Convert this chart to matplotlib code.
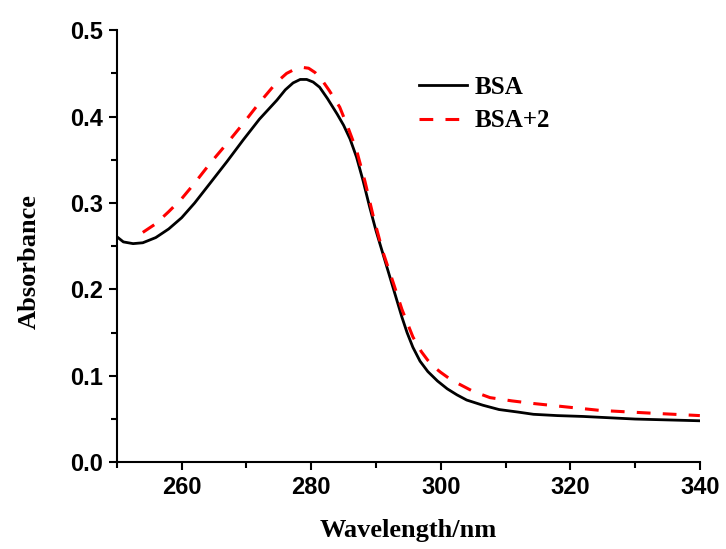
import matplotlib
matplotlib.use('Agg')
import matplotlib.pyplot as plt
from matplotlib.ticker import MultipleLocator

# Espectros UV-Vis
wl_bsa = [250, 251, 252.5, 254, 256, 258, 260, 262, 264.4, 267, 269.5, 272, 274.7,
          276, 277.2, 278.3, 279.3, 280.3, 281.3, 282.5, 284, 285, 286, 287, 288, 289,
          290, 291, 292, 293, 294, 294.8, 295.7, 296.8, 298, 299.5, 301, 302.5, 304,
          306.5, 309, 312, 314.3, 318, 322, 326, 330, 335, 340]
abs_bsa = [0.261, 0.255, 0.253, 0.254, 0.260, 0.270, 0.283, 0.300, 0.323, 0.348, 0.373,
           0.397, 0.419, 0.431, 0.439, 0.443, 0.443, 0.440, 0.434, 0.421, 0.403, 0.390,
           0.374, 0.353, 0.326, 0.296, 0.268, 0.243, 0.218, 0.193, 0.168, 0.150, 0.133,
           0.117, 0.105, 0.094, 0.085, 0.078, 0.072, 0.066, 0.061, 0.058, 0.0555, 0.054,
           0.053, 0.0515, 0.050, 0.049, 0.048]

wl_bsa2 = [254, 256, 258, 260, 262, 264.4, 267, 269.5, 272, 274.7, 276.2, 277.5, 278.6,
           279.6, 280.6, 281.6, 282.8, 284.4, 285.8, 287, 288.3, 289.6, 291, 292.7, 294,
           295.7, 297, 298, 299, 300, 301.3, 302.7, 305, 307.6, 311, 314.3, 319.4,
           324.6, 332, 340]
abs_bsa2 = [0.266, 0.276, 0.290, 0.305, 0.323, 0.346, 0.369, 0.392, 0.416, 0.440, 0.450,
            0.455, 0.457, 0.456, 0.451, 0.443, 0.430, 0.411, 0.385, 0.361, 0.325, 0.284,
            0.245, 0.207, 0.177, 0.145, 0.128, 0.118, 0.110, 0.104, 0.097, 0.091, 0.082,
            0.0748, 0.071, 0.068, 0.064, 0.060, 0.057, 0.054]

xticks = [260, 280, 300, 320, 340]
yticks = [0.0, 0.1, 0.2, 0.3, 0.4, 0.5]

fig = plt.figure(figsize=(7.26, 5.49), dpi=100)
ax = fig.add_axes([0.161, 0.158, 0.803, 0.787])

ax.plot(wl_bsa, abs_bsa, color='black', lw=2.0, label='BSA')
ax.plot(wl_bsa2, abs_bsa2, color='#ff0000', lw=2.2, dashes=(4.5, 4), label='BSA+2')

ax.set_xlim(250, 340)
ax.set_ylim(0, 0.5)
ax.set_xticks(xticks)
ax.set_yticks(yticks)
ax.set_yticklabels([f'{v:.1f}' for v in yticks])
ax.xaxis.set_minor_locator(MultipleLocator(10))
ax.yaxis.set_minor_locator(MultipleLocator(0.05))

for s in ['top', 'right']:
    ax.spines[s].set_visible(False)
for s in ['left', 'bottom']:
    ax.spines[s].set_linewidth(1.5)

ax.tick_params(which='major', direction='out', length=6, width=1.5, pad=4)
ax.tick_params(which='minor', direction='out', length=4, width=1.5)
for lab in ax.get_xticklabels() + ax.get_yticklabels():
    lab.set_fontfamily('Liberation Sans')
    lab.set_fontweight('bold')
    lab.set_fontsize(17)

ax.set_xlabel('Wavelength/nm', fontfamily='Liberation Serif', fontweight='bold',
              fontsize=19, labelpad=14)
ax.set_ylabel('Absorbance', fontfamily='Liberation Serif', fontweight='bold',
              fontsize=19)
ax.yaxis.set_label_coords(-0.130, 0.465)

leg = ax.legend(loc='upper left', bbox_to_anchor=(0.48, 0.947), frameon=False,
                prop={'family': 'Liberation Serif', 'weight': 'bold', 'size': 18},
                handlelength=1.92, handletextpad=0.28, labelspacing=0.43)

fig.savefig('out.png', dpi=100)
